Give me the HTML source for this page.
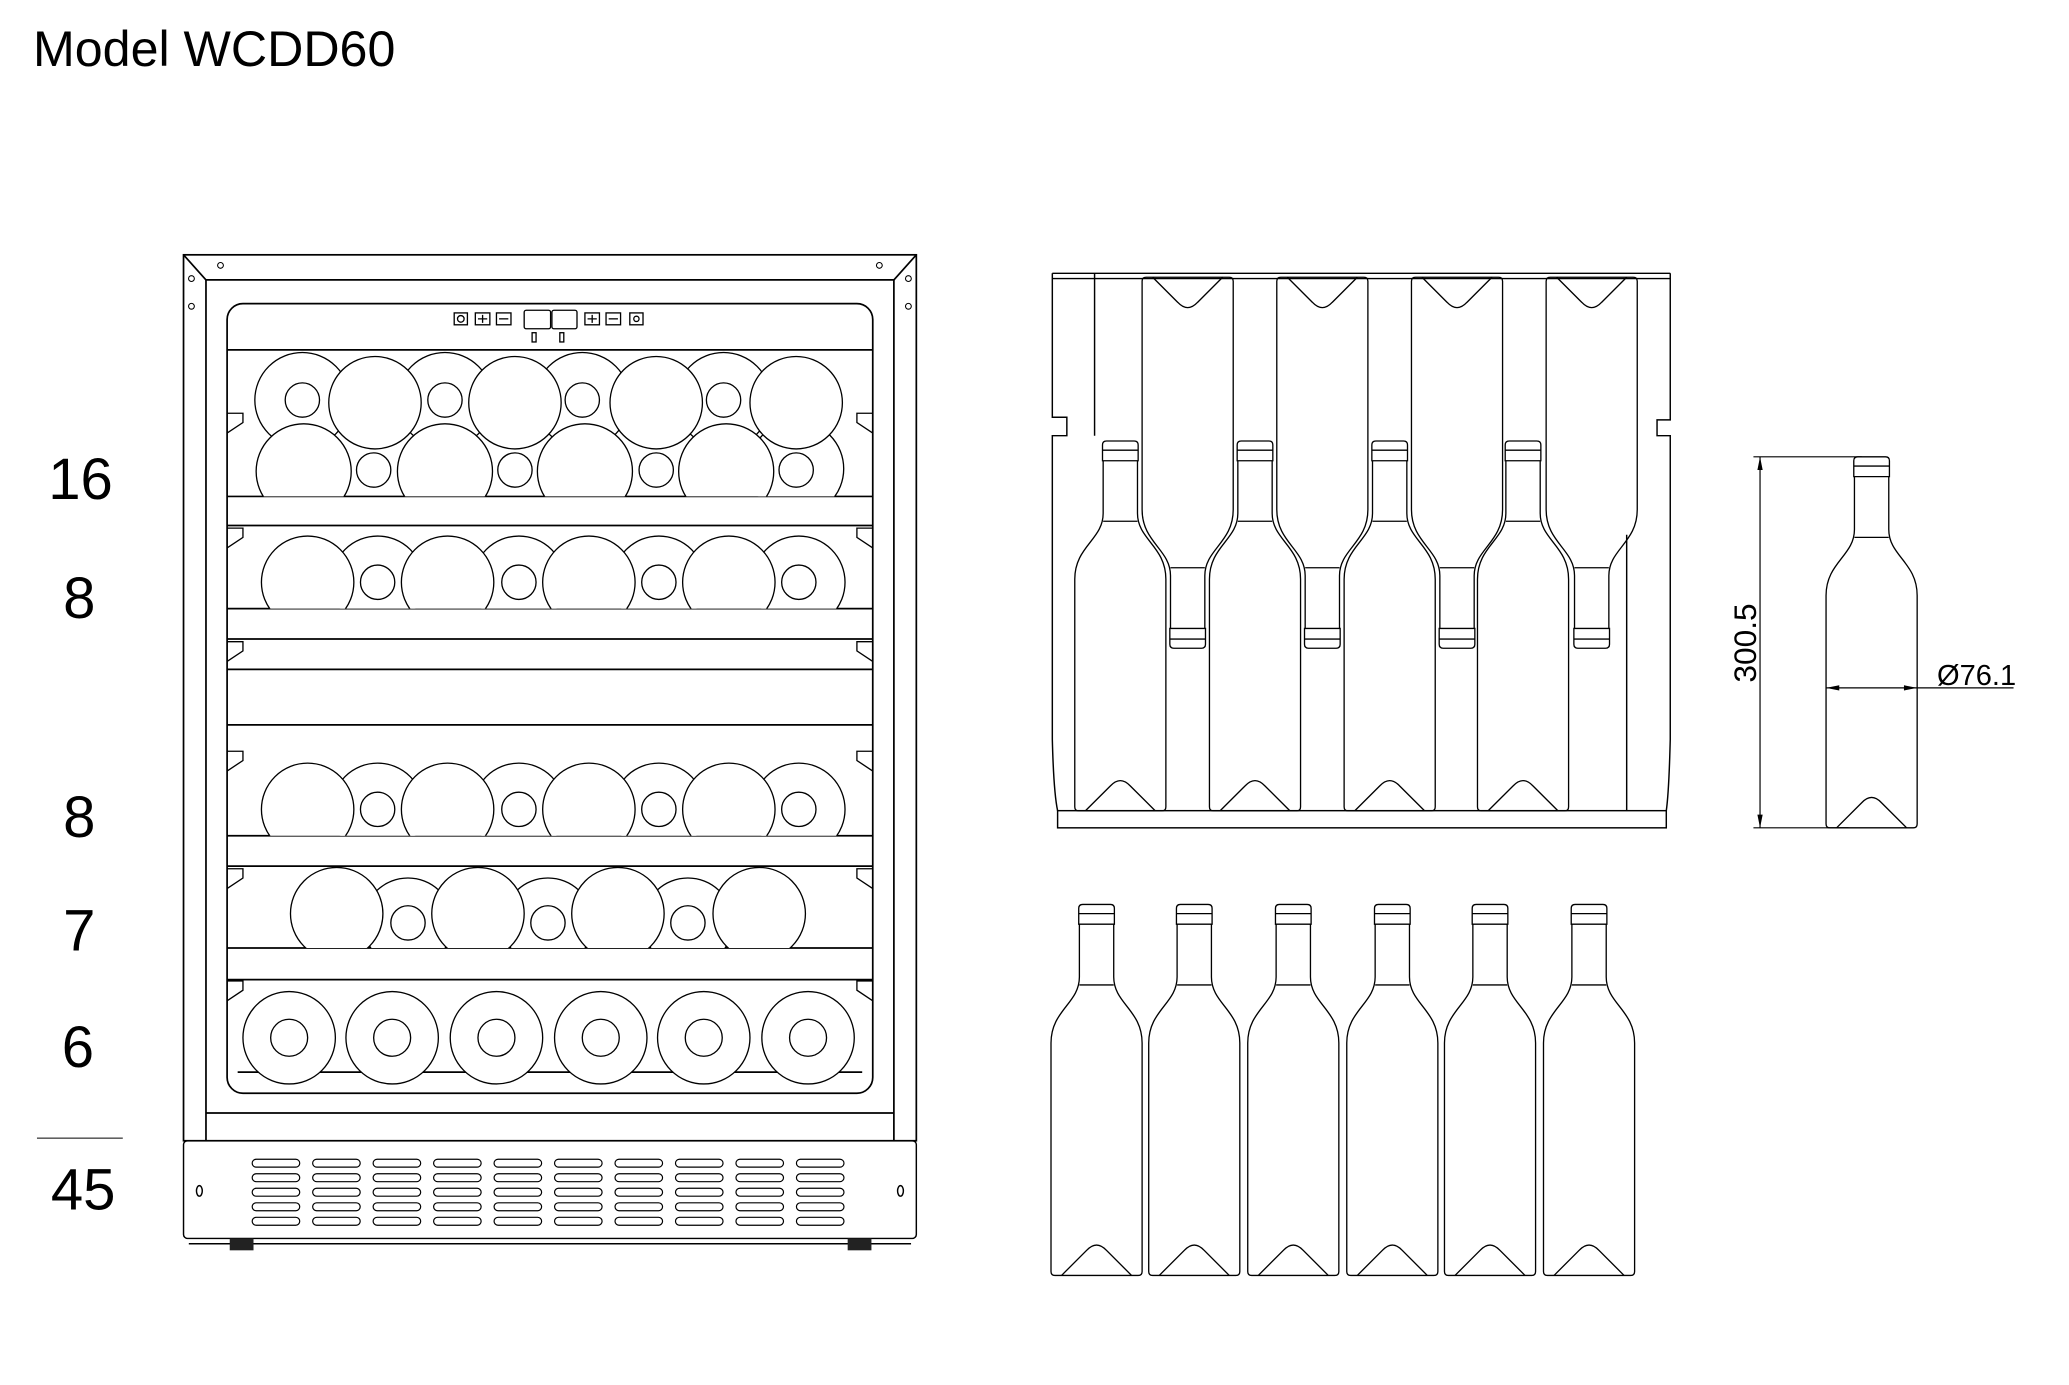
<!DOCTYPE html>
<html><head><meta charset="utf-8"><style>
html,body{margin:0;padding:0;background:#fff;}
svg{display:block;}
text{font-family:"Liberation Sans",Arial,sans-serif;fill:#000;}
</style></head><body>
<svg width="2069" height="1385" viewBox="0 0 1567 1049" preserveAspectRatio="none" xmlns="http://www.w3.org/2000/svg">
<defs>
<g id="b" fill="none" stroke="#000" stroke-width="1">
<path d="M22.5,15 L22.5,55 C22.5,75 1,80 1,105 L1,278 Q1,281 4,281 L67,281 Q70,281 70,278 L70,105 C70,80 48.5,75 48.5,55 L48.5,15"/>
<line x1="22.5" y1="61" x2="48.5" y2="61"/>
<path d="M22,15 L22,3 Q22,0 25,0 L46,0 Q49,0 49,3 L49,15 Z"/>
<line x1="22" y1="7" x2="49" y2="7"/>
<path d="M9,281 L28,262 Q35.5,254 43,262 L62,281"/>
</g>
<clipPath id="c1"><rect x="172" y="266" width="489" height="110"/></clipPath>
<clipPath id="c2"><rect x="172" y="398" width="489" height="63"/></clipPath>
<clipPath id="c3"><rect x="172" y="549" width="489" height="84"/></clipPath>
<clipPath id="c4"><rect x="172" y="656" width="489" height="62"/></clipPath>
</defs>

<text x="25" y="50" font-size="38">Model WCDD60</text>
<g font-size="44" text-anchor="middle">
<text x="61" y="378">16</text>
<text x="60" y="468">8</text>
<text x="60" y="634">8</text>
<text x="60" y="720">7</text>
<text x="59" y="808">6</text>
<text x="63" y="916">45</text>
</g>
<line x1="28" y1="862" x2="93" y2="862" stroke="#000" stroke-width="0.8"/>

<g fill="none" stroke="#000" stroke-width="1.3">
<rect x="139" y="193" width="555" height="671"/>
<line x1="156" y1="212" x2="677" y2="212"/>
<line x1="156" y1="212" x2="156" y2="864"/>
<line x1="677" y1="212" x2="677" y2="864"/>
<line x1="139" y1="193" x2="156" y2="212"/>
<line x1="694" y1="193" x2="677" y2="212"/>
<line x1="156" y1="843" x2="677" y2="843"/>
<rect x="172" y="230" width="489" height="598" rx="12"/>
<line x1="172" y1="265" x2="661" y2="265"/>
<line x1="172" y1="376" x2="661" y2="376"/>
<line x1="172" y1="398" x2="661" y2="398"/>
<line x1="172" y1="461" x2="661" y2="461"/>
<line x1="172" y1="484" x2="661" y2="484"/>
<line x1="172" y1="507" x2="661" y2="507"/>
<line x1="172" y1="549" x2="661" y2="549"/>
<line x1="172" y1="633" x2="661" y2="633"/>
<line x1="172" y1="656" x2="661" y2="656"/>
<line x1="172" y1="718" x2="661" y2="718"/>
<line x1="172" y1="742" x2="661" y2="742"/>
<line x1="180" y1="812" x2="653" y2="812"/>
</g>
<g fill="none" stroke="#000" stroke-width="1">
<path d="M172,313 H184 V320 L172,328"/><path d="M661,313 H649 V320 L661,328"/>
<path d="M172,400 H184 V407 L172,415"/><path d="M661,400 H649 V407 L661,415"/>
<path d="M172,486 H184 V493 L172,501"/><path d="M661,486 H649 V493 L661,501"/>
<path d="M172,569 H184 V576 L172,584"/><path d="M661,569 H649 V576 L661,584"/>
<path d="M172,658 H184 V665 L172,673"/><path d="M661,658 H649 V665 L661,673"/>
<path d="M172,743 H184 V750 L172,758"/><path d="M661,743 H649 V750 L661,758"/>
</g>
<g fill="none" stroke="#000" stroke-width="0.8">
<circle cx="145" cy="211" r="2.2"/><circle cx="145" cy="232" r="2.2"/>
<circle cx="167" cy="201" r="2.2"/><circle cx="666" cy="201" r="2.2"/>
<circle cx="688" cy="211" r="2.2"/><circle cx="688" cy="232" r="2.2"/>
</g>
<g fill="none" stroke="#000" stroke-width="1">
<rect x="344" y="237" width="10" height="9"/><circle cx="349" cy="241.5" r="2.5"/>
<rect x="360" y="237" width="11" height="9"/><path d="M362,241.5h7M365.5,238.5v6"/>
<rect x="376" y="237" width="11" height="9"/><path d="M378,241.5h7"/>
<rect x="397" y="235" width="20" height="14" rx="1.5"/>
<rect x="418" y="235" width="19" height="14" rx="1.5"/>
<rect x="443" y="237" width="11" height="9"/><path d="M445,241.5h7M448.5,238.5v6"/>
<rect x="459" y="237" width="11" height="9"/><path d="M461,241.5h7"/>
<rect x="477" y="237" width="10" height="9"/><circle cx="482" cy="241.5" r="2"/>
<rect x="403" y="252" width="3" height="7"/><rect x="424" y="252" width="3" height="7"/>
</g>
<g clip-path="url(#c1)" fill="#fff" stroke="#000" stroke-width="1">
<circle cx="229" cy="303" r="36"/><circle cx="337" cy="303" r="36"/><circle cx="441" cy="303" r="36"/><circle cx="548" cy="303" r="36"/>
<circle cx="603" cy="355" r="36"/>
<circle cx="230" cy="357" r="36"/><circle cx="337" cy="357" r="36"/><circle cx="443" cy="357" r="36"/><circle cx="550" cy="357" r="36"/>
<circle cx="284" cy="305" r="35"/><circle cx="390" cy="305" r="35"/><circle cx="497" cy="305" r="35"/><circle cx="603" cy="305" r="35"/>
<circle cx="229" cy="303" r="13"/><circle cx="337" cy="303" r="13"/><circle cx="441" cy="303" r="13"/><circle cx="548" cy="303" r="13"/>
<circle cx="283" cy="356" r="13"/><circle cx="390" cy="356" r="13"/><circle cx="497" cy="356" r="13"/><circle cx="603" cy="356" r="13"/>
</g>
<g clip-path="url(#c2)" fill="#fff" stroke="#000" stroke-width="1">
<circle cx="286" cy="441" r="35"/><circle cx="393" cy="441" r="35"/><circle cx="499" cy="441" r="35"/><circle cx="605" cy="441" r="35"/>
<circle cx="233" cy="441" r="35"/><circle cx="339" cy="441" r="35"/><circle cx="446" cy="441" r="35"/><circle cx="552" cy="441" r="35"/>
<circle cx="286" cy="441" r="13"/><circle cx="393" cy="441" r="13"/><circle cx="499" cy="441" r="13"/><circle cx="605" cy="441" r="13"/>
</g>
<g clip-path="url(#c3)" fill="#fff" stroke="#000" stroke-width="1">
<circle cx="286" cy="613" r="35"/><circle cx="393" cy="613" r="35"/><circle cx="499" cy="613" r="35"/><circle cx="605" cy="613" r="35"/>
<circle cx="233" cy="613" r="35"/><circle cx="339" cy="613" r="35"/><circle cx="446" cy="613" r="35"/><circle cx="552" cy="613" r="35"/>
<circle cx="286" cy="613" r="13"/><circle cx="393" cy="613" r="13"/><circle cx="499" cy="613" r="13"/><circle cx="605" cy="613" r="13"/>
</g>
<g clip-path="url(#c4)" fill="#fff" stroke="#000" stroke-width="1">
<circle cx="309" cy="699" r="34"/><circle cx="415" cy="699" r="34"/><circle cx="521" cy="699" r="34"/>
<circle cx="255" cy="692" r="35"/><circle cx="362" cy="692" r="35"/><circle cx="468" cy="692" r="35"/><circle cx="575" cy="692" r="35"/>
<circle cx="309" cy="699" r="13"/><circle cx="415" cy="699" r="13"/><circle cx="521" cy="699" r="13"/>
</g>
<g fill="#fff" stroke="#000" stroke-width="1">
<circle cx="219" cy="786" r="35"/><circle cx="297" cy="786" r="35"/><circle cx="376" cy="786" r="35"/><circle cx="455" cy="786" r="35"/><circle cx="533" cy="786" r="35"/><circle cx="612" cy="786" r="35"/>
<circle cx="219" cy="786" r="14"/><circle cx="297" cy="786" r="14"/><circle cx="376" cy="786" r="14"/><circle cx="455" cy="786" r="14"/><circle cx="533" cy="786" r="14"/><circle cx="612" cy="786" r="14"/>
</g>
<g fill="none" stroke="#000" stroke-width="1.1">
<rect x="139" y="864" width="555" height="74" rx="3"/>
<line x1="143" y1="942" x2="690" y2="942"/>
<ellipse cx="151" cy="902" rx="2.2" ry="4"/><ellipse cx="682" cy="902" rx="2.2" ry="4"/>
</g>
<g fill="#222"><rect x="174" y="938" width="18" height="9"/><rect x="642" y="938" width="18" height="9"/></g>
<g fill="none" stroke="#000" stroke-width="0.9">
<g id="col">
<rect x="191" y="878" width="36" height="6" rx="3"/><rect x="191" y="889" width="36" height="6" rx="3"/><rect x="191" y="900" width="36" height="6" rx="3"/><rect x="191" y="911" width="36" height="6" rx="3"/><rect x="191" y="922" width="36" height="6" rx="3"/>
</g>
<use href="#col" x="45.8"/><use href="#col" x="91.6"/><use href="#col" x="137.4"/><use href="#col" x="183.2"/><use href="#col" x="229"/><use href="#col" x="274.8"/><use href="#col" x="320.6"/><use href="#col" x="366.4"/><use href="#col" x="412.2"/>
</g>

<g fill="none" stroke="#000" stroke-width="1.1">
<line x1="797" y1="207" x2="1265" y2="207"/>
<line x1="797" y1="211" x2="1265" y2="211"/>
<path d="M797,207 V316 H808 V330 H797 V560 Q798,600 801,614"/>
<path d="M1265,207 V318 H1255 V330 H1265 V560 Q1264,600 1262,614"/>
<line x1="829" y1="207" x2="829" y2="330"/>
<line x1="1232" y1="405" x2="1232" y2="614"/>
<rect x="801" y="614" width="461" height="13"/>
</g>
<use href="#b" transform="translate(864,491) scale(1,-1)"/>
<use href="#b" transform="translate(966,491) scale(1,-1)"/>
<use href="#b" transform="translate(1068,491) scale(1,-1)"/>
<use href="#b" transform="translate(1170,491) scale(1,-1)"/>
<use href="#b" transform="translate(813,334) scale(1,0.997)"/>
<use href="#b" transform="translate(915,334) scale(1,0.997)"/>
<use href="#b" transform="translate(1017,334) scale(1,0.997)"/>
<use href="#b" transform="translate(1118,334) scale(1,0.997)"/>

<use href="#b" transform="translate(795,685)"/>
<use href="#b" transform="translate(869,685)"/>
<use href="#b" transform="translate(944,685)"/>
<use href="#b" transform="translate(1019,685)"/>
<use href="#b" transform="translate(1093,685)"/>
<use href="#b" transform="translate(1168,685)"/>

<use href="#b" transform="translate(1382,346)"/>
<g stroke="#000" stroke-width="0.9" fill="none">
<line x1="1333" y1="346" x2="1333" y2="627"/>
<line x1="1328" y1="346" x2="1410" y2="346"/>
<line x1="1328" y1="627" x2="1400" y2="627"/>
<line x1="1383" y1="521" x2="1525" y2="521"/>
</g>
<g fill="#000">
<path d="M1333,346 l-2,10 h4z"/><path d="M1333,627 l-2,-10 h4z"/>
<path d="M1383,521 l10,-2 v4z"/><path d="M1452,521 l-10,-2 v4z"/>
</g>
<text x="1497" y="519" font-size="22" text-anchor="middle">Ø76.1</text>
<text transform="translate(1330,487) rotate(-90)" font-size="24" text-anchor="middle">300.5</text>
</svg>
</body></html>
